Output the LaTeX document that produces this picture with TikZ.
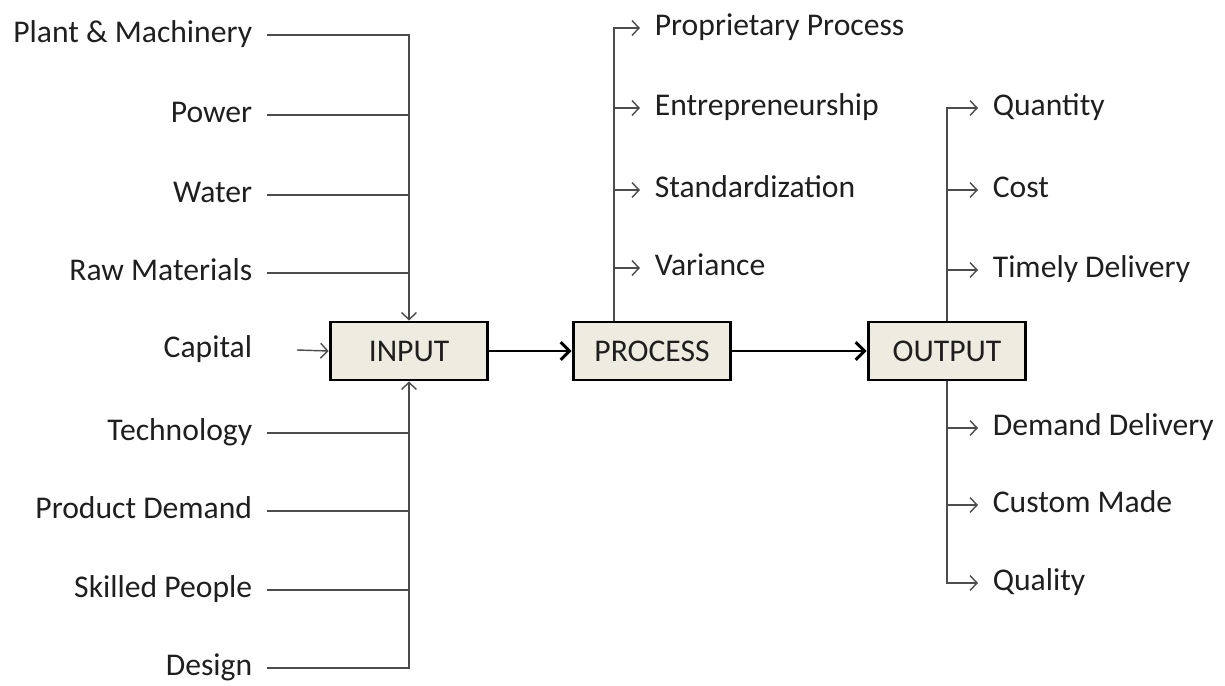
\documentclass[tikz,border=0pt]{standalone}
\usepackage{fontspec}
\setmainfont{Carlito}
\usetikzlibrary{arrows.meta}
\definecolor{boxfill}{HTML}{EEECE1}
\tikzset{
  lbl/.style={inner xsep=0.29cm, inner ysep=0pt, text height=0.85em, text depth=0em, text=black!88},
  box/.style={draw, line width=1.7pt, fill=boxfill, minimum width=3.16cm, minimum height=1.16cm, text=black!88},
  feed/.style={draw=black!70, line width=0.8pt, -{Straight Barb[length=4pt, width=8.5pt]}},
  plain/.style={draw=black!70, line width=0.8pt},
  bold/.style={draw=black, line width=1.7pt, -{Straight Barb[length=5pt, width=10pt]}}
}

\begin{document}
\begin{tikzpicture}[x=0.02cm, y=-0.02cm, font=\fontsize{18}{21}\selectfont]
\useasboundingbox (0,0) rectangle (1225,686);

\draw 
(409, 351) node[box](inp){INPUT}
(652, 351) node[box](proc){PROCESS}
(947, 351) node[box](out){OUTPUT}

(267, 35) node[lbl, anchor=east](pm){Plant \& Machinery}
(267, 115) node[lbl, anchor=east](pow){Power}
(267, 195) node[lbl, anchor=east](wat){Water}
(267, 273) node[lbl, anchor=east](raw){Raw Materials}
(267, 350) node[lbl, anchor=east](cap){Capital}
(267, 433) node[lbl, anchor=east](tech){Technology}
(267, 511) node[lbl, anchor=east](dem){Product Demand}
(267, 590) node[lbl, anchor=east](ski){Skilled People}
(267, 668) node[lbl, anchor=east](des){Design}

(640, 28) node[lbl, anchor=west](prop){Proprietary Process}
(640, 108) node[lbl, anchor=west](ent){Entrepreneurship}
(640, 190) node[lbl, anchor=west](std){Standardization}
(640, 268) node[lbl, anchor=west](var){Variance}

(978, 108) node[lbl, anchor=west](qty){Quantity}
(978, 190) node[lbl, anchor=west](cost){Cost}
(978, 270) node[lbl, anchor=west](tim){Timely Delivery}
(978, 428) node[lbl, anchor=west](dd){Demand Delivery}
(978, 505) node[lbl, anchor=west](cm){Custom Made}
(978, 583) node[lbl, anchor=west](qual){Quality};

\draw[feed] (pm.east) -| (inp.north);
\draw[plain] (pow.east) -- (pow.east -| inp.north);
\draw[plain] (wat.east) -- (wat.east -| inp.north);
\draw[plain] (raw.east) -- (raw.east -| inp.north);
\draw[feed] ([xshift=0.6cm]cap.east) -- (inp.west);
\draw[plain] (tech.east) -- (tech.east -| inp.south);
\draw[plain] (dem.east) -- (dem.east -| inp.south);
\draw[plain] (ski.east) -- (ski.east -| inp.south);
\draw[feed] (des.east) -| (inp.south);

\draw[bold] (inp) -- (proc);
\draw[bold] (proc) -- (out);

\draw[feed] ([xshift=-0.76cm]proc.north) |- (prop.west);
\draw[feed] ([xshift=-0.76cm]proc.north) |- (ent.west);
\draw[feed] ([xshift=-0.76cm]proc.north) |- (std.west);
\draw[feed] ([xshift=-0.76cm]proc.north) |- (var.west);

\draw[feed] (out.north) |- (qty.west);
\draw[feed] (out.north) |- (cost.west);
\draw[feed] (out.north) |- (tim.west);
\draw[feed] (out.south) |- (dd.west);
\draw[feed] (out.south) |- (cm.west);
\draw[feed] (out.south) |- (qual.west);

\end{tikzpicture}
\end{document}
